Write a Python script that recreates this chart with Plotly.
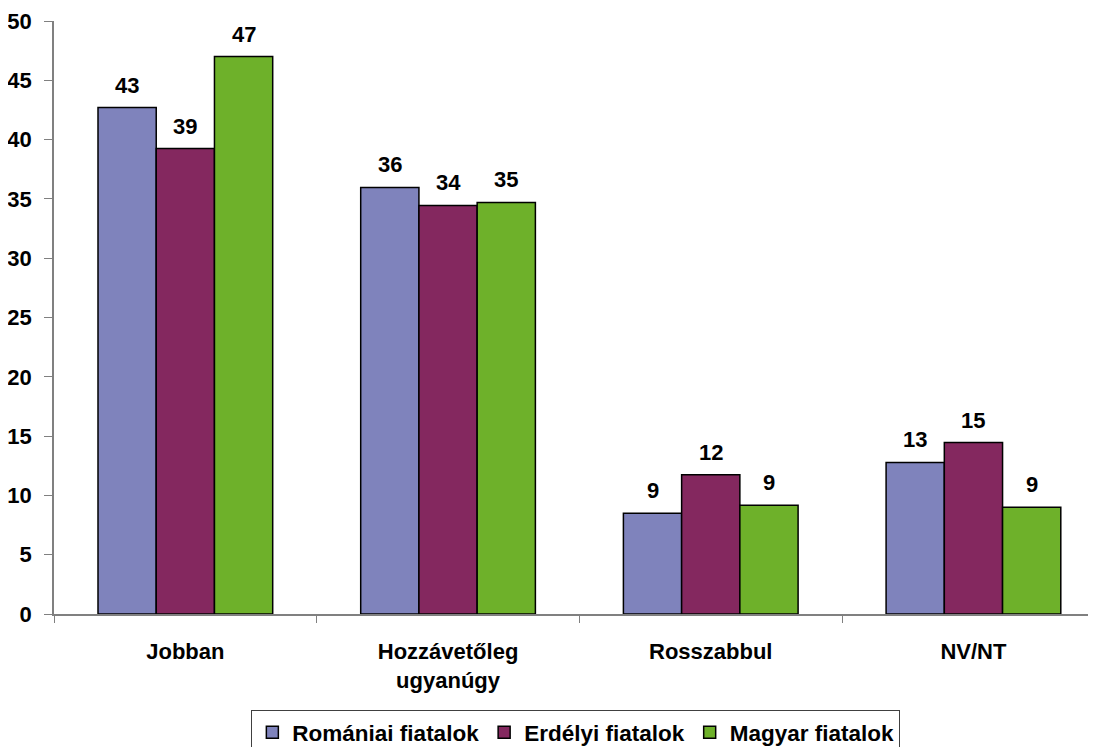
import plotly.graph_objects as go

categories = ["Jobban", "Hozzávetőleg<br>ugyanúgy", "Rosszabbul", "NV/NT"]
series_names = ["Romániai fiatalok", "Erdélyi fiatalok", "Magyar fiatalok"]
romaniai = [42.7, 35.97, 8.5, 12.78]
erdelyi = [39.25, 34.45, 11.75, 14.46]
magyar = [47.0, 34.7, 9.18, 9.01]
romaniai_labels = ["43", "36", "9", "13"]
erdelyi_labels = ["39", "34", "12", "15"]
magyar_labels = ["47", "35", "9", "9"]
y_ticks = [0, 5, 10, 15, 20, 25, 30, 35, 40, 45, 50]

colors = ["#7F83BC", "#84285F", "#6EB12A"]
values = [romaniai, erdelyi, magyar]
labels = [romaniai_labels, erdelyi_labels, magyar_labels]

FONT = "Liberation Sans, Arial, sans-serif"
FS = 22
bargap = 0.335
bar_w = (1 - bargap) / 3

fig = go.Figure()
for name, vals, col in zip(series_names, values, colors):
    fig.add_trace(go.Bar(
        name=name, x=categories, y=vals,
        marker=dict(color=col, line=dict(color="black", width=1.5)),
    ))

annotations = []
for k, (vals, labs) in enumerate(zip(values, labels)):
    for i, (v, lab) in enumerate(zip(vals, labs)):
        annotations.append(dict(
            x=i + (k - 1) * bar_w, y=v, xref="x", yref="y",
            text="<b>%s</b>" % lab, showarrow=False,
            yanchor="bottom", yshift=8,
            font=dict(family=FONT, size=FS, color="black"),
        ))

fig.update_layout(
    width=1096, height=747,
    barmode="group", bargap=bargap, bargroupgap=0,
    plot_bgcolor="white", paper_bgcolor="white",
    margin=dict(l=46, r=0, t=13, b=121),
    font=dict(family=FONT, color="black"),
    annotations=annotations,
    legend=dict(
        orientation="h", x=0.497, xanchor="center", y=-0.162, yanchor="top",
        bordercolor="#404040", borderwidth=1,
        font=dict(family=FONT, size=22.5, color="black", weight="bold"),
        itemwidth=30, tracegroupgap=0,
    ),
)
fig.update_yaxes(
    range=[0, 50], tickvals=y_ticks, showgrid=False, zeroline=False,
    showline=True, linecolor="#808080", linewidth=1.5,
    ticks="outside", ticklen=8, tickcolor="#808080",
    tickfont=dict(family=FONT, size=FS, color="black", weight="bold"),
    ticklabelstandoff=8, automargin=False,
)
fig.update_xaxes(
    range=[-0.5, 3.497], showgrid=False, showline=True,
    linecolor="#808080", linewidth=1.5,
    ticks="outside", tickson="boundaries", ticklen=7, tickcolor="#808080",
    tickfont=dict(family=FONT, size=FS, color="black", weight="bold"),
    ticklabelstandoff=17, automargin=False,
)

fig.write_html("out.html")
